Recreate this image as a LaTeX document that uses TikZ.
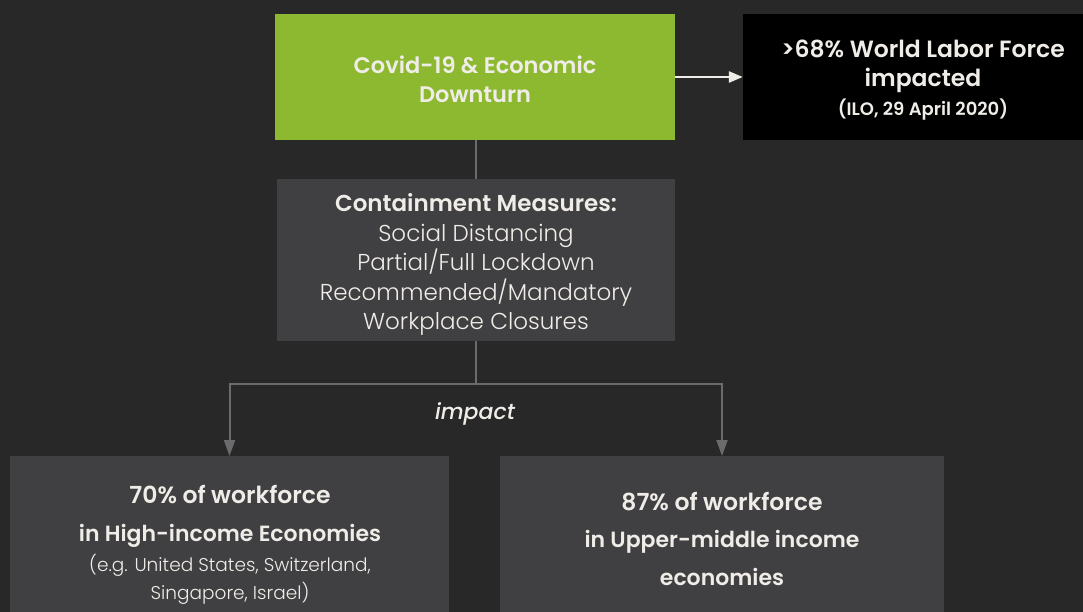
\documentclass[tikz,border=0pt]{standalone}
\usepackage{fontspec}
\setmainfont{Poppins}[UprightFont=* Light, BoldFont=* SemiBold, ItalicFont=* Medium Italic]
\usepackage{xcolor}
\definecolor{bgdark}{HTML}{282828}
\definecolor{boxgray}{HTML}{404042}
\definecolor{covidgreen}{HTML}{8CB92F}
\definecolor{linkgray}{HTML}{6B6B6D}
\definecolor{paper}{HTML}{F0EDE8}
\usetikzlibrary{arrows.meta}

\tikzset{
  box/.style={rectangle, inner sep=0pt},
  boxtext/.style={inner sep=0pt, align=center, text=paper},
  link/.style={draw=linkgray, line width=2pt},
  linkarrow/.style={link, -{Triangle[width=11pt,length=16pt]}},
  hitarrow/.style={draw=paper, line width=2.5pt, -{Triangle[width=11pt,length=14pt]}},
}

\begin{document}
\begin{tikzpicture}[x=1pt,y=-1pt]
        \useasboundingbox (0,0) rectangle (1083,612);
        \fill[bgdark] (0,0) rectangle (1083,612);

        % top row
        \node[box, fill=covidgreen, minimum width=400pt, minimum height=126pt] (cause) at (475,77) {};
        \node[boxtext, font=\fontsize{22.5}{29}\selectfont\bfseries] (cause-text) at (475,79)
              {Covid-19 \& Economic\\Downturn};
        \node[box, fill=black, minimum width=360pt, minimum height=126pt] (ilo) at (923,77) {};
        \node[boxtext, font=\fontsize{23.5}{28.5}\selectfont\bfseries] (ilo-text) at (923,80.5)
              {>68\% World Labor Force\\impacted\\[1pt]
               \fontsize{18}{20}\selectfont\bfseries (ILO, 29 April 2020)};

        % measures
        \node[box, fill=boxgray, minimum width=398pt, minimum height=162pt] (measures) at (476,260) {};
        \node[boxtext, font=\fontsize{23}{29.5}\selectfont] (measures-text) at (476,264.5)
              {\textbf{Containment Measures:}\\Social Distancing\\Partial/Full Lockdown\\
               Recommended/Mandatory\\Workplace Closures};

        % bottom row
        \node[box, fill=boxgray, minimum width=439pt, minimum height=180pt, anchor=north] (high) at (229.5,456) {};
        \node[boxtext, font=\fontsize{22}{28}\selectfont\bfseries] (high-text) at (230,544.5)
              {\fontsize{23.5}{28}\selectfont\bfseries 70\% of workforce\\[10pt]
               in High-income Economies\\[2pt]
               \fontsize{18.5}{28}\selectfont\mdseries (e.g. United States, Switzerland,\\
               \fontsize{18.5}{28}\selectfont\mdseries Singapore, Israel)};
        \node[box, fill=boxgray, minimum width=444pt, minimum height=180pt, anchor=north] (upper) at (722,456) {};
        \node[boxtext, font=\fontsize{22}{37.5}\selectfont\bfseries] (upper-text) at (722,538.5)
              {\fontsize{23.5}{37.5}\selectfont\bfseries 87\% of workforce\\
               in Upper-middle income\\economies};

        % connectors
        \draw[hitarrow] (cause.east) -- (ilo.west);
        \draw[link] (measures.north) -- (measures.north |- cause.south);
        \coordinate (split) at (476,384);
        \draw[link] (measures.south) -- (split);
        \draw[linkarrow] (split) -| (high.north);
        \draw[linkarrow] (split) -| (upper.north);
        \node[text=paper, font=\fontsize{22}{24}\selectfont\itshape] (impact) at (475,414) {impact};
      \end{tikzpicture}
\end{document}
